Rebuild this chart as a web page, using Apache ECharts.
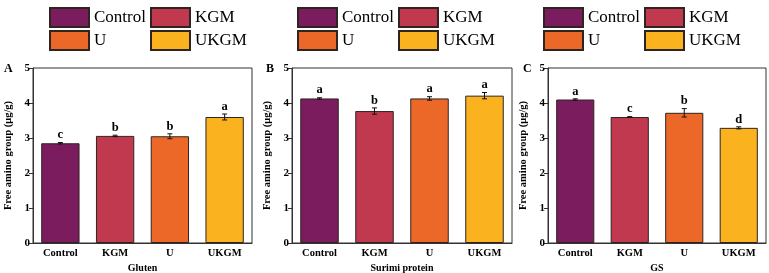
<!DOCTYPE html>
<html>
<head>
<meta charset="utf-8">
<script src="https://cdn.jsdelivr.net/npm/echarts@6/dist/echarts.min.js"></script>
<style>
  html, body { margin: 0; padding: 0; background: #fff; }
  #chart { width: 769px; height: 273px; }
</style>
</head>
<body>
<div id="chart"></div>
<script>
const categories = ['Control', 'KGM', 'U', 'UKGM'];
const barColors = ['#7b1c5f', '#c0394f', '#ec6828', '#fab21f'];

const glutenMeans = [2.85, 3.06, 3.05, 3.60];
const glutenErrors = [0.02, 0.02, 0.07, 0.085];
const glutenLetters = ['c', 'b', 'b', 'a'];

const surimiMeans = [4.13, 3.77, 4.13, 4.21];
const surimiErrors = [0.02, 0.09, 0.05, 0.09];
const surimiLetters = ['a', 'b', 'a', 'a'];

const gsMeans = [4.10, 3.60, 3.72, 3.29];
const gsErrors = [0.02, 0.01, 0.12, 0.03];
const gsLetters = ['a', 'c', 'b', 'd'];

const yMin = 0, yMax = 5, yStep = 1;
const panelLabels = ['A', 'B', 'C'];
const xNames = ['Gluten', 'Surimi protein', 'GS'];
const yName = 'Free amino group (μg/g)';

const font = 'Liberation Serif';
const panels = [
  { means: glutenMeans, errors: glutenErrors, letters: glutenLetters },
  { means: surimiMeans, errors: surimiErrors, letters: surimiLetters },
  { means: gsMeans, errors: gsErrors, letters: gsLetters }
];

// layout of the three plots
const gridBoxes = [
  { left: 33, top: 68, width: 219, height: 175 },
  { left: 292, top: 68, width: 220, height: 175 },
  { left: 548, top: 68, width: 218, height: 175 }
];
const legendLefts = [49, 297, 543];
const letterLefts = [4, 266, 523];

const chart = echarts.init(document.getElementById('chart'));

const grid = [], xAxis = [], yAxis = [], series = [], legend = [], title = [];

panels.forEach((p, g) => {
  grid.push(Object.assign({
    show: true, borderColor: '#333', borderWidth: 1, backgroundColor: 'transparent',
    containLabel: false, outerBoundsMode: 'none'
  }, gridBoxes[g]));

  xAxis.push({
    type: 'category',
    gridIndex: g,
    data: categories,
    name: xNames[g],
    nameLocation: 'middle',
    nameGap: 20,
    nameTextStyle: { fontFamily: font, fontWeight: 'bold', fontSize: 10, color: '#000' },
    axisLine: { lineStyle: { color: '#333', width: 1 } },
    axisTick: { show: false },
    axisLabel: { fontFamily: font, fontWeight: 'bold', fontSize: 10.5, color: '#000', margin: 5 }
  });

  yAxis.push({
    type: 'value',
    gridIndex: g,
    min: yMin,
    max: yMax,
    interval: yStep,
    name: yName,
    nameLocation: 'middle',
    nameGap: 19,
    nameTextStyle: { fontFamily: font, fontWeight: 'bold', fontSize: 10.5, color: '#000' },
    axisLine: { show: true, lineStyle: { color: '#333', width: 1 } },
    axisTick: { show: true, length: 4, lineStyle: { color: '#333' } },
    axisLabel: { fontFamily: font, fontWeight: 'bold', fontSize: 11, color: '#000', margin: 3 },
    splitLine: { show: false }
  });

  categories.forEach((c, i) => {
    series.push({
      name: c,
      type: 'bar',
      xAxisIndex: g,
      yAxisIndex: g,
      stack: 'grp' + g,
      barWidth: '70%',
      itemStyle: { color: barColors[i], borderColor: '#2e2420', borderWidth: 1 },
      data: p.means.map((v, k) => (k === i ? v : '-'))
    });
  });

  series.push({
    name: 'err' + g,
    type: 'custom',
    xAxisIndex: g,
    yAxisIndex: g,
    clip: false,
    z: 5,
    data: p.means.map((v, k) => [k, v, p.errors[k]]),
    renderItem: (params, api) => {
      const x = api.value(0), m = api.value(1), e = api.value(2);
      const top = api.coord([x, m + e]);
      const bot = api.coord([x, m - e]);
      const cx = top[0];
      const st = { stroke: '#111', lineWidth: 1 };
      return {
        type: 'group',
        children: [
          { type: 'line', shape: { x1: cx, y1: top[1], x2: cx, y2: bot[1] }, style: st },
          { type: 'line', shape: { x1: cx - 2.5, y1: top[1], x2: cx + 2.5, y2: top[1] }, style: st },
          { type: 'line', shape: { x1: cx - 2.5, y1: bot[1], x2: cx + 2.5, y2: bot[1] }, style: st },
          {
            type: 'text',
            style: {
              text: p.letters[params.dataIndex],
              x: cx, y: top[1] - 1,
              align: 'center', verticalAlign: 'bottom',
              fontFamily: font, fontWeight: 'bold', fontSize: 12.5, fill: '#000'
            }
          }
        ]
      };
    }
  });

  [['Control', 'U'], ['KGM', 'UKGM']].forEach((names, col) => {
    legend.push({
      data: names,
      orient: 'vertical',
      left: legendLefts[g] + col * 101,
      top: 7,
      padding: 0,
      itemWidth: 39,
      itemHeight: 19,
      itemGap: 2,
      icon: 'rect',
      selectedMode: false,
      textStyle: { fontFamily: font, fontSize: 17, color: '#000' }
    });
  });

  title.push({
    text: panelLabels[g],
    left: letterLefts[g],
    top: 63,
    padding: 0,
    textStyle: { fontFamily: font, fontWeight: 'bold', fontSize: 12, color: '#000' }
  });
});

chart.setOption({
  backgroundColor: '#fff',
  animation: false,
  title: title,
  legend: legend,
  grid: grid,
  xAxis: xAxis,
  yAxis: yAxis,
  series: series
});
</script>
</body>
</html>
